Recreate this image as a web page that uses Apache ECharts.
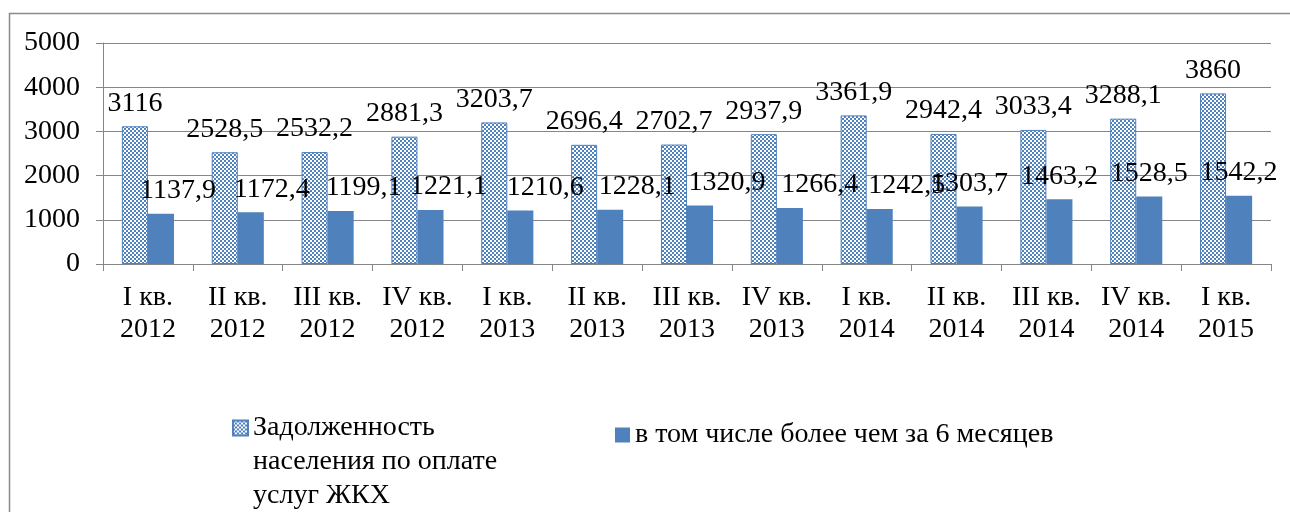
<!DOCTYPE html>
<html>
<head>
<meta charset="utf-8">
<script src="https://cdn.jsdelivr.net/npm/echarts@6/dist/echarts.min.js"></script>
<style>
  html, body { margin: 0; padding: 0; background: #fff; }
  #chart { width: 1290px; height: 512px; }
</style>
</head>
<body>
<div id="chart"></div>
<script>
// chart data
const categories = [
    'I кв.\n2012', 'II кв.\n2012', 'III кв.\n2012', 'IV кв.\n2012',
    'I кв.\n2013', 'II кв.\n2013', 'III кв.\n2013', 'IV кв.\n2013',
    'I кв.\n2014', 'II кв.\n2014', 'III кв.\n2014', 'IV кв.\n2014',
    'I кв.\n2015'
];
const debtTotal = [3116, 2528.5, 2532.2, 2881.3, 3203.7, 2696.4, 2702.7, 2937.9, 3361.9, 2942.4, 3033.4, 3288.1, 3860];
const debtOver6m = [1137.9, 1172.4, 1199.1, 1221.1, 1210.6, 1228.1, 1320.9, 1266.4, 1242.5, 1303.7, 1463.2, 1528.5, 1542.2];
const yTicks = [0, 1000, 2000, 3000, 4000, 5000];

const nameTotal = 'Задолженность населения по оплате услуг ЖКХ';
const nameOver6m = 'в том числе более чем за 6 месяцев';
const legendTotal = ['Задолженность', 'населения по оплате', 'услуг ЖКХ'];

// horizontal nudge of the second series' labels (Excel moved them around)
const labelNudge = [17, 21, 23, 18, 25, 27, 27, 30, 27, 0, 0, 0, 0];

const FONT = 'Liberation Serif';
const BLUE = '#4F81BD';

// small checkerboard fill, like the Excel pattern
function checkerPattern() {
    const c = document.createElement('canvas');
    c.width = 4;
    c.height = 4;
    const ctx = c.getContext('2d');
    ctx.fillStyle = '#ffffff';
    ctx.fillRect(0, 0, 4, 4);
    ctx.fillStyle = BLUE;
    ctx.fillRect(0, 0, 2, 2);
    ctx.fillRect(2, 2, 2, 2);
    return { image: c, repeat: 'repeat' };
}

const fmt = v => String(v).replace('.', ',');

const container = document.getElementById('chart');
const chart = echarts.init(container, null, { renderer: 'canvas' });

function dataLabel() {
    return {
        show: true,
        position: 'top',
        distance: 9,
        fontSize: 28,
        fontFamily: FONT,
        fontWeight: 'normal',
        color: '#000',
        formatter: p => fmt(p.value)
    };
}

const option = {
    animation: false,
    backgroundColor: '#fff',
    textStyle: { fontFamily: FONT },
    grid: { left: 103, right: 19, top: 43, bottom: 248 },
    xAxis: {
        type: 'category',
        data: categories,
        axisLine: { lineStyle: { color: '#868686', width: 1 } },
        axisTick: { show: true, length: 7, lineStyle: { color: '#868686' } },
        axisLabel: {
            interval: 0,
            margin: 18,
            fontSize: 28,
            lineHeight: 32,
            color: '#000',
            fontFamily: FONT
        }
    },
    yAxis: {
        type: 'value',
        min: yTicks[0],
        max: yTicks[yTicks.length - 1],
        interval: 1000,
        axisLine: { show: true, lineStyle: { color: '#868686', width: 1 } },
        axisTick: { show: true, length: 7, lineStyle: { color: '#868686' } },
        splitLine: { lineStyle: { color: '#868686', width: 1 } },
        axisLabel: {
            margin: 23,
            fontSize: 28,
            color: '#000',
            fontFamily: FONT,
            formatter: v => String(v)
        }
    },
    legend: [
        {
            data: [nameTotal],
            left: 232,
            top: 343,
            padding: 0,
            icon: 'rect',
            itemWidth: 15,
            itemHeight: 15,
            // two blank lines in front keep the icon on the first text line
            formatter: () => '\n\n' + legendTotal.join('\n'),
            textStyle: {
                fontSize: 28,
                lineHeight: 34,
                fontFamily: FONT,
                fontWeight: 'normal',
                color: '#000'
            }
        },
        {
            data: [nameOver6m],
            left: 615,
            top: 421,
            padding: 0,
            icon: 'rect',
            itemWidth: 15,
            itemHeight: 15,
            textStyle: {
                fontSize: 28,
                fontFamily: FONT,
                fontWeight: 'normal',
                color: '#000'
            }
        }
    ],
    graphic: [
        {
            type: 'polyline',
            silent: true,
            shape: { points: [[9.5, 512], [9.5, 13.5], [1290, 13.5]] },
            style: { stroke: '#8a8a8a', lineWidth: 1.5, fill: null }
        }
    ],
    series: [
        {
            name: nameTotal,
            type: 'bar',
            data: debtTotal,
            barGap: '0%',
            barCategoryGap: '42%',
            itemStyle: { color: checkerPattern(), borderColor: BLUE, borderWidth: 1 },
            label: dataLabel()
        },
        {
            name: nameOver6m,
            type: 'bar',
            data: debtOver6m.map((v, i) => ({
                value: v,
                label: { offset: [labelNudge[i], 0] }
            })),
            barGap: '0%',
            barCategoryGap: '42%',
            itemStyle: { color: BLUE },
            label: dataLabel()
        }
    ]
};

chart.setOption(option);
</script>
</body>
</html>
